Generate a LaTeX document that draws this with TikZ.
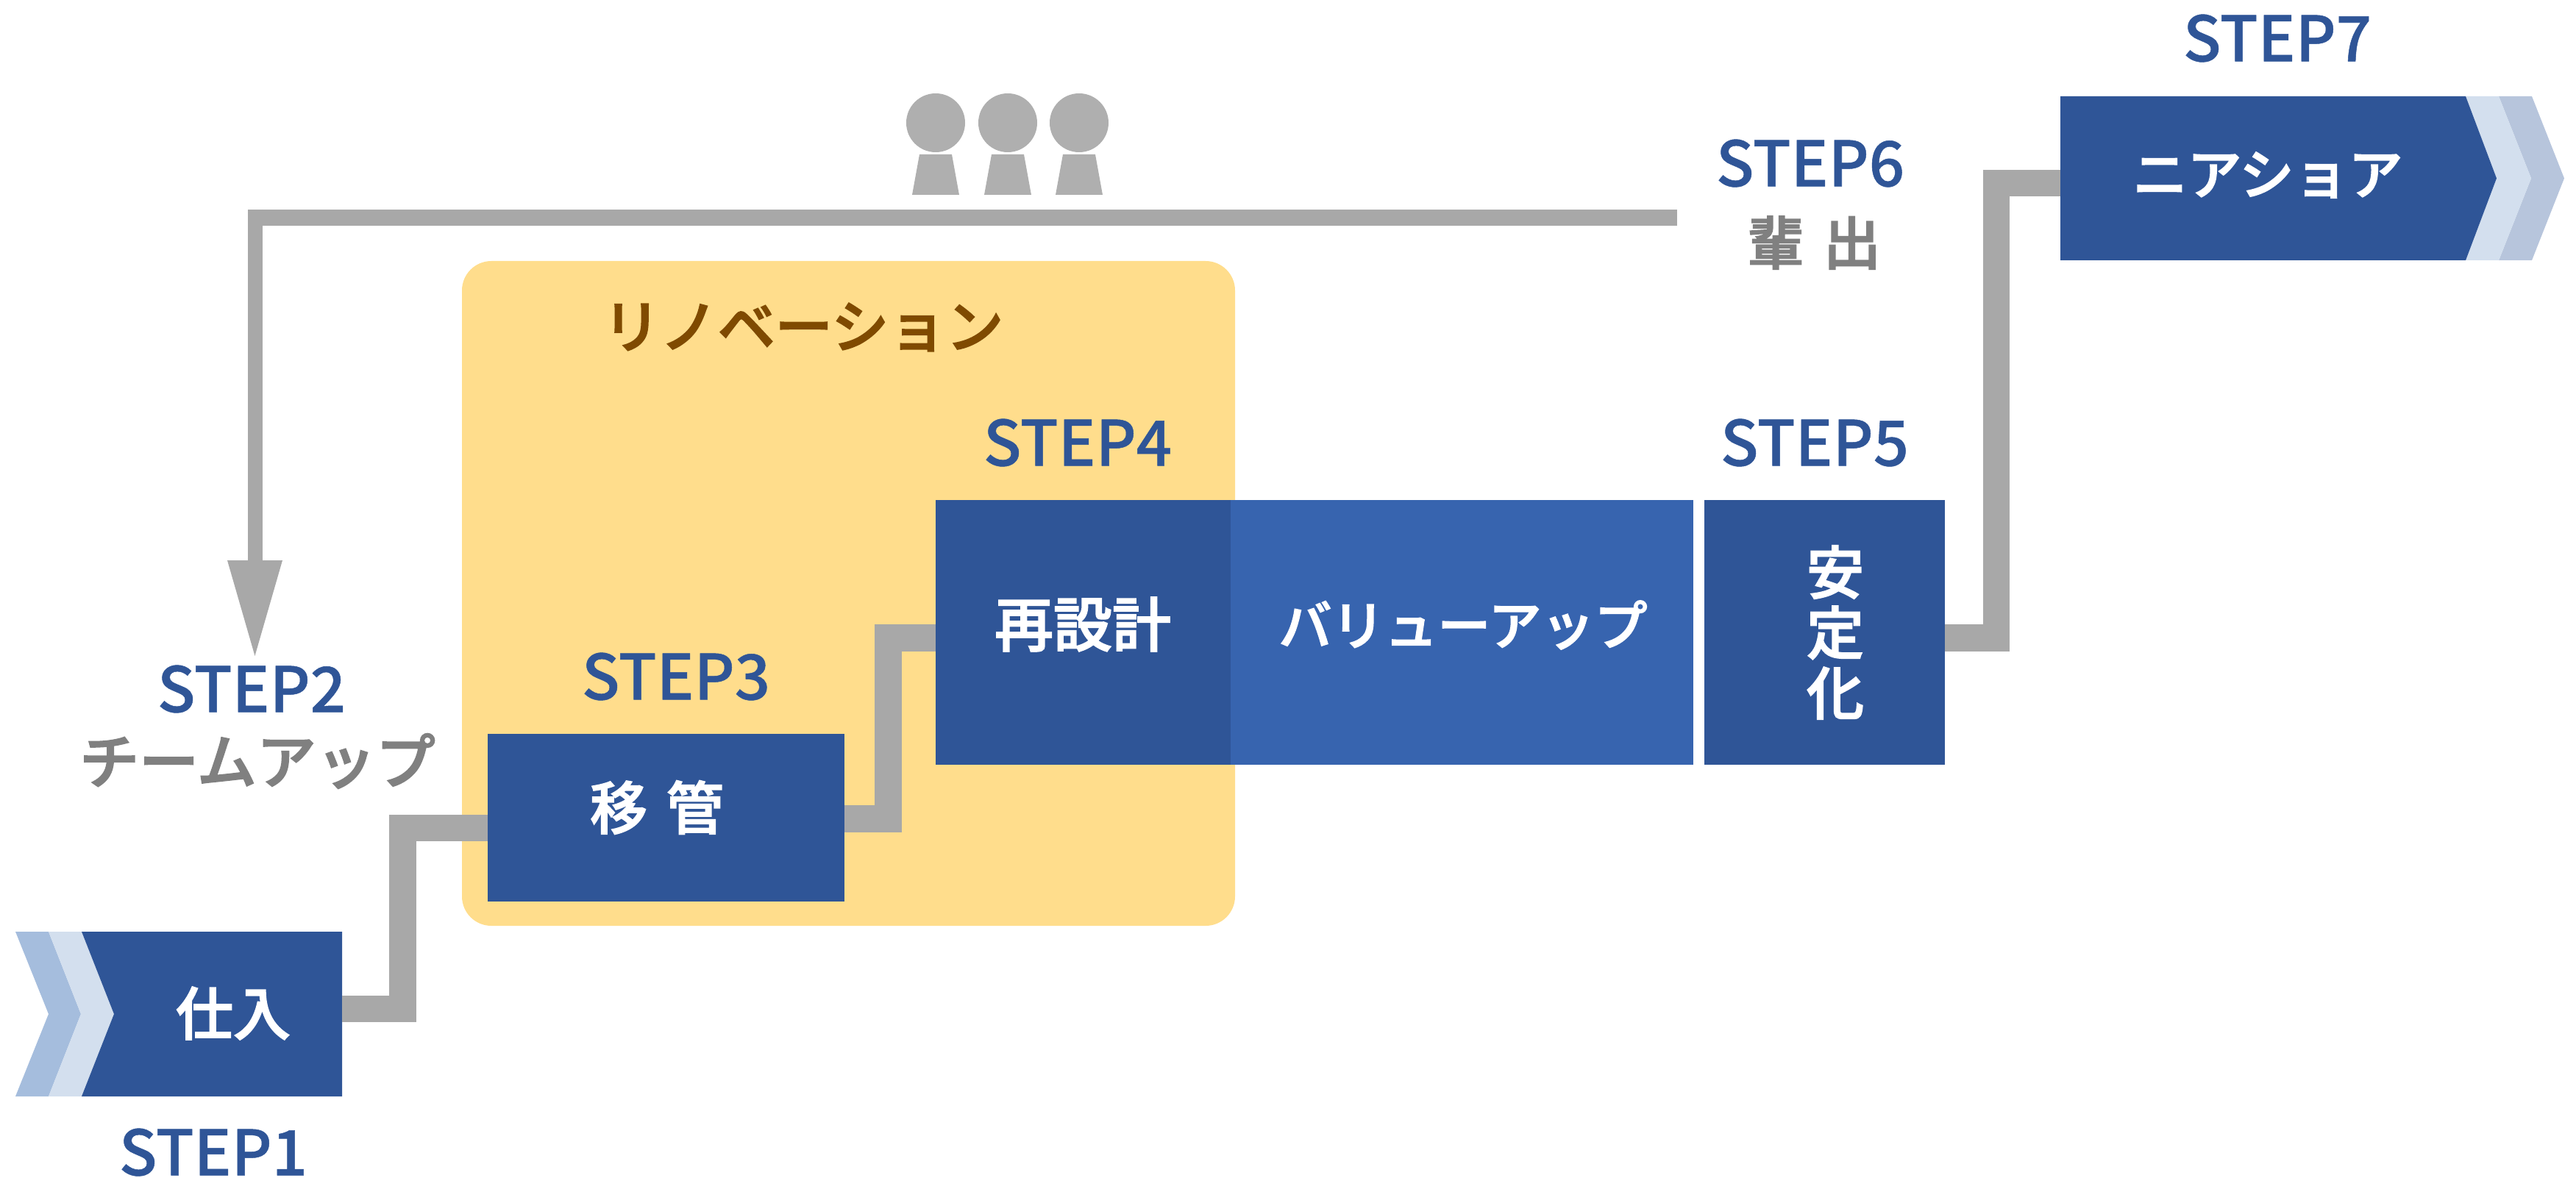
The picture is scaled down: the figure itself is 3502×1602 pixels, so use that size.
\documentclass[tikz,border=0pt]{standalone}
\usepackage{fontspec}
\setmainfont{Noto Sans CJK JP}
\newfontface\steptxt{Noto Sans CJK JP Medium}[FakeBold=0.6]
\newfontface\jptxt{Noto Sans CJK JP Medium}[FakeBold=2.2]
\definecolor{dkblue}{HTML}{2F5597}
\definecolor{ltblue}{HTML}{3764AF}
\definecolor{chevA}{HTML}{A5BDDD}
\definecolor{chevB}{HTML}{D3DFEE}
\definecolor{chevC}{HTML}{B7C5DC}
\definecolor{linegray}{HTML}{A8A8A8}
\definecolor{persongray}{HTML}{AFAFAF}
\definecolor{textgray}{HTML}{808080}
\definecolor{yellowbg}{HTML}{FFDD8C}
\definecolor{browntxt}{HTML}{7F4A00}
\newcommand{\jpfont}[1]{\jptxt\fontsize{#1}{#1}\selectfont}
\tikzset{
 x=1pt,y=-1pt,
 stepbox/.style={fill=dkblue,draw=none,inner sep=0pt,outer sep=0pt},
 boxtext/.style={text=white,inner sep=0pt,font=\jpfont{78}},
 steplabel/.style={text=dkblue,inner sep=0pt,font=\steptxt\fontsize{85}{85}\selectfont},
 graylabel/.style={text=textgray,inner sep=0pt,font=\jpfont{78}},
 conn/.style={draw=linegray,line width=36.5pt,line join=miter,line cap=butt},
}
\newcommand{\person}[2]{%
 \fill[persongray] (#1,167) circle[radius=40];
 \fill[persongray] (#1-22,210) -- (#1+22,210) -- (#1+32,265) -- (#1-32,265) -- cycle;
 \coordinate (#2) at (#1,210);
}
\begin{document}
\begin{tikzpicture}
\useasboundingbox (0,0) rectangle (3502,1602);
% background panel
\fill[yellowbg,rounded corners=40pt] (628,355) rectangle (1679,1259);
\node[text=browntxt,inner sep=0pt,font=\jpfont{78}] (reno) at (1092,445) {リノベーション};
% chevrons
\fill[chevA] (21,1267) -- (66,1267) -- (110,1379) -- (66,1491) -- (21,1491) -- (66,1379) -- cycle;
\fill[chevB] (66,1267) -- (111,1267) -- (155,1379) -- (111,1491) -- (66,1491) -- (110,1379) -- cycle;
\fill[chevC] (3397,131) -- (3442,131) -- (3486,242.5) -- (3442,354) -- (3397,354) -- (3441,242.5) -- cycle;
\fill[chevB] (3352,131) -- (3397,131) -- (3441,242.5) -- (3397,354) -- (3352,354) -- (3394,242.5) -- cycle;
% boxes
\fill[dkblue] (111,1267) -- (465,1267) -- (465,1491) -- (111,1491) -- (155,1379) -- cycle;
\node[boxtext] (s1) at (317,1378) {仕入};
\coordinate (s1e) at (465,1372);
\node[stepbox,minimum width=485pt,minimum height=228pt] (s3) at (905.5,1112) {};
\node[boxtext] (s3t) at (893,1098) {移\hspace{0.33em}管};
\node[fill=ltblue,inner sep=0pt,outer sep=0pt,minimum width=629pt,minimum height=360pt] (s4b) at (1987.5,860) {};
\node[boxtext,font=\jpfont{72}] (s4v) at (1989,850) {バリューアップ};
\node[stepbox,minimum width=401pt,minimum height=360pt] (s4) at (1472.5,860) {};
\node[boxtext,font=\jpfont{80}] (s4t) at (1472,849) {再設計};
\node[stepbox,minimum width=327pt,minimum height=360pt] (s5) at (2480.5,860) {};
\node[boxtext,align=center,font=\jptxt\fontsize{78}{82}\selectfont] (s5t) at (2495,860) {安\\定\\化};
\fill[dkblue] (2801,131) -- (3352,131) -- (3394,242.5) -- (3352,354) -- (2801,354) -- cycle;
\node[boxtext,font=\jpfont{74}] (s7t) at (3083,238) {ニアショア};
\coordinate (s7w) at (2801,249);
% connectors
\coordinate (c1a) at (547.5,1372);
\coordinate (c1b) at (547.5,1126);
\coordinate (s3w) at (663,1126);
\draw[conn] (s1e) -- (c1a) -- (c1b) -- (s3w);
\coordinate (s3e) at (1148,1113.5);
\coordinate (c2a) at (1207.5,1113.5);
\coordinate (c2b) at (1207.5,867.5);
\coordinate (s4w) at (1272,867.5);
\draw[conn] (s3e) -- (c2a) -- (c2b) -- (s4w);
\coordinate (s5e) at (2644,867.5);
\coordinate (c3a) at (2714,867.5);
\coordinate (c3b) at (2714,249);
\draw[conn] (s5e) -- (c3a) -- (c3b) -- (s7w);
\coordinate (s6w) at (2280,296);
\coordinate (c4a) at (337,296);
\coordinate (c4c) at (346.5,285);
\coordinate (c4b) at (346.5,770);
\draw[draw=linegray,line width=22pt] (s6w) -- (c4a);
\draw[draw=linegray,line width=20pt] (c4c) -- (c4b);
\fill[linegray] (309,762) -- (384,762) -- (346.5,892) -- cycle;
% people
\person{1272}{p1}\person{1370}{p2}\person{1467}{p3}
% labels
\node[steplabel] (l1) at (290,1567) {STEP1};
\node[steplabel] (l2) at (342,937) {STEP2};
\node[graylabel,font=\jpfont{81}] (l2b) at (350,1035) {チームアップ};
\node[steplabel] (l3) at (919,920) {STEP3};
\node[steplabel] (l4) at (1465,602) {STEP4};
\node[steplabel] (l5) at (2467,602) {STEP5};
\node[steplabel] (l6) at (2461,222) {STEP6};
\node[graylabel] (l6b) at (2466,330) {輩\hspace{0.33em}出};
\node[steplabel] (l7) at (3096,52) {STEP7};
\end{tikzpicture}
\end{document}
